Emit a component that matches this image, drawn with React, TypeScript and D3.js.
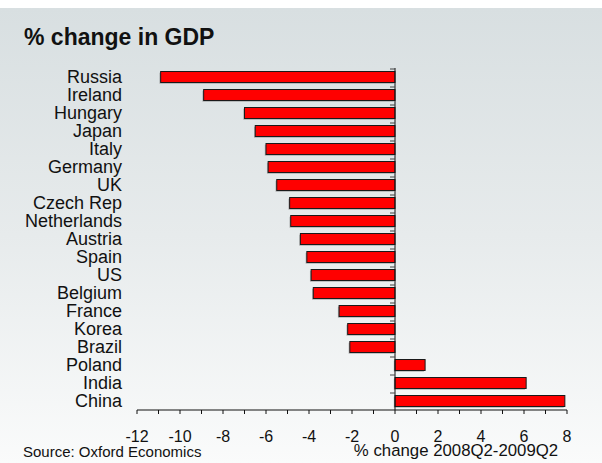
import React from "react";
import * as d3 from "d3";

const countries = [
  "Russia", "Ireland", "Hungary", "Japan", "Italy", "Germany", "UK",
  "Czech Rep", "Netherlands", "Austria", "Spain", "US", "Belgium",
  "France", "Korea", "Brazil", "Poland", "India", "China",
];
const gdpChange = [
  -10.9, -8.9, -7.0, -6.5, -6.0, -5.9, -5.5,
  -4.9, -4.85, -4.4, -4.1, -3.9, -3.8,
  -2.6, -2.2, -2.1, 1.4, 6.1, 7.9,
];
const xTickValues = [-12, -10, -8, -6, -4, -2, 0, 2, 4, 6, 8];
const title = "% change in GDP";
const xAxisTitle = "% change 2008Q2-2009Q2";
const source = "Source: Oxford Economics";

const W = 602;
const H = 463;
const FONT = "Arial, 'Liberation Sans', Helvetica, sans-serif";

export default function App() {
  const x = d3.scaleLinear().domain([-12, 8]).range([137, 567]);
  const y = d3
    .scaleBand<string>()
    .domain(countries)
    .range([68, 410])
    .paddingInner(0.39)
    .paddingOuter(0.195);
  const step = y.step();
  const minorTicks = d3.range(-12, 9, 1);
  const x0 = x(0);
  const yBottom = 410;
  const yTop = 68;

  return (
    <svg
      width={W}
      height={H}
      style={{ position: "absolute", left: 0, top: 0, display: "block" }}
      fontFamily={FONT}
    >
      <defs>
        <linearGradient id="bg" x1="0" y1="0" x2="0" y2="1">
          <stop offset="0%" stopColor="#d8dfe1" />
          <stop offset="50%" stopColor="#e7ebec" />
          <stop offset="100%" stopColor="#fafbfb" />
        </linearGradient>
      </defs>
      <rect x={0} y={0} width={W} height={H} fill="#ffffff" />
      <rect x={0} y={8} width={W} height={H - 8} fill="url(#bg)" />

      <text x={24} y={45} fontSize={23} fontWeight="bold" fill="#111">
        {title}
      </text>

      {/* bars */}
      {countries.map((c, i) => {
        const v = gdpChange[i];
        const bx = Math.min(x(v), x0);
        const bw = Math.abs(x(v) - x0);
        const by = y(c) as number;
        return (
          <g key={c}>
            <rect
              x={bx - 1.2}
              y={by + 1.2}
              width={bw}
              height={y.bandwidth()}
              fill="#777"
              opacity={0.55}
            />
            <rect
              x={bx}
              y={by}
              width={bw}
              height={y.bandwidth()}
              fill="#ff0000"
              stroke="#1a1a1a"
              strokeWidth={1}
            />
          </g>
        );
      })}

      {/* country labels */}
      {countries.map((c) => (
        <text
          key={"l" + c}
          x={122}
          y={(y(c) as number) + y.bandwidth() / 2 + 6.3}
          textAnchor="end"
          fontSize={18}
          fill="#111"
        >
          {c}
        </text>
      ))}

      {/* y axis */}
      <line x1={x0} x2={x0} y1={yTop} y2={yBottom} stroke="#111" strokeWidth={1} />
      {countries.map((c, i) => {
        const ty = yTop + i * step + 1;
        return (
          <line
            key={"t" + c}
            x1={x0 - 5}
            x2={x0}
            y1={ty}
            y2={ty}
            stroke="#444"
            strokeWidth={1}
          />
        );
      })}

      {/* x axis */}
      <line x1={x(-12)} x2={x(8)} y1={yBottom} y2={yBottom} stroke="#111" strokeWidth={1} />
      {minorTicks.map((t) => (
        <line
          key={"m" + t}
          x1={x(t)}
          x2={x(t)}
          y1={yBottom}
          y2={yBottom + 4}
          stroke="#111"
          strokeWidth={1}
        />
      ))}
      {xTickValues.map((t) => (
        <text
          key={"x" + t}
          x={x(t)}
          y={441.5}
          textAnchor="middle"
          fontSize={16}
          fill="#111"
        >
          {t}
        </text>
      ))}
      <text x={456} y={456} textAnchor="middle" fontSize={16.8} fill="#111">
        {xAxisTitle}
      </text>
      <text x={23} y={457} fontSize={15} fill="#111">
        {source}
      </text>
    </svg>
  );
}
